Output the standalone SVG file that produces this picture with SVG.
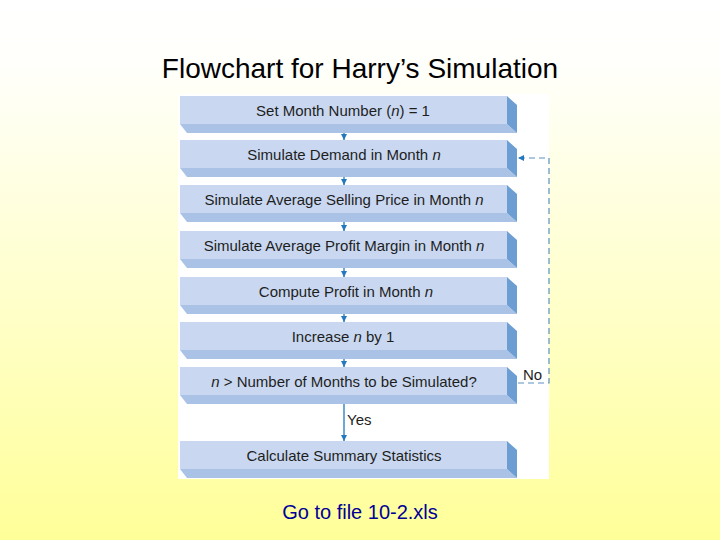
<svg xmlns="http://www.w3.org/2000/svg" width="720" height="540" viewBox="0 0 720 540">
<defs>
<linearGradient id="bg" x1="0" y1="0" x2="0" y2="1">
<stop offset="0" stop-color="#ffffff"/>
<stop offset="0.12" stop-color="#fffffb"/>
<stop offset="1" stop-color="#ffff99"/>
</linearGradient>
<marker id="ah" viewBox="0 0 10 10" refX="10" refY="5" markerWidth="6" markerHeight="7" markerUnits="userSpaceOnUse" orient="auto">
<path d="M0,0 L10,5 L0,10 z" fill="#2378be"/>
</marker>
<marker id="ahd" viewBox="0 0 10 10" refX="10" refY="5" markerWidth="7" markerHeight="6" markerUnits="userSpaceOnUse" orient="auto">
<path d="M0,0 L10,5 L0,10 z" fill="#2378be"/>
</marker>
<g id="box">
<rect x="180" y="0" width="327" height="28" class="front"/>
<polygon points="180,28 507,28 517,37 187,37" class="bottom"/>
<polygon points="507,0 517,9 517,37 507,28" class="side"/>
</g>
</defs>
<style>
.front{fill:#c9d8f0}
.bottom{fill:#a9c2e6}
.side{fill:#6d9ed3}
.lbl{font-family:"Liberation Sans",Arial,sans-serif;font-size:15px;fill:#1e1e1e;text-anchor:middle}
.conn{stroke:#2378be;stroke-width:1.3;fill:none}
.dash{stroke:#5a8fbf;stroke-width:1.2;fill:none;stroke-dasharray:6,4}
</style>
<rect x="0" y="0" width="720" height="540" fill="url(#bg)"/>
<text x="360" y="78" font-family="Liberation Sans, Arial, sans-serif" font-size="28" text-anchor="middle" fill="#000">Flowchart for Harry’s Simulation</text>
<rect x="178" y="94" width="371" height="385" fill="#ffffff"/>

<g id="connectors">
<line class="conn" x1="344" y1="124" x2="344" y2="140" marker-end="url(#ah)"/>
<line class="conn" x1="344" y1="168" x2="344" y2="185" marker-end="url(#ah)"/>
<line class="conn" x1="344" y1="213" x2="344" y2="231" marker-end="url(#ah)"/>
<line class="conn" x1="344" y1="259" x2="344" y2="277" marker-end="url(#ah)"/>
<line class="conn" x1="344" y1="305" x2="344" y2="322" marker-end="url(#ah)"/>
<line class="conn" x1="344" y1="350" x2="344" y2="367" marker-end="url(#ah)"/>
<line class="conn" x1="344" y1="395" x2="344" y2="441" marker-end="url(#ah)"/>
<polyline class="dash" points="518,383 549,383 549,158 518,158" marker-end="url(#ahd)"/>
<text x="347" y="425" font-family="Liberation Sans, Arial, sans-serif" font-size="15" fill="#1e1e1e">Yes</text>
<text x="523" y="380" font-family="Liberation Sans, Arial, sans-serif" font-size="15" fill="#1e1e1e">No</text>
</g>

<g id="n1"><use href="#box" y="96"/><text class="lbl" x="343" y="116">Set Month Number (<tspan font-style="italic">n</tspan>) = 1</text></g>
<g id="n2"><use href="#box" y="140"/><text class="lbl" x="344" y="160">Simulate Demand in Month <tspan font-style="italic">n</tspan></text></g>
<g id="n3"><use href="#box" y="185"/><text class="lbl" x="344" y="205">Simulate Average Selling Price in Month <tspan font-style="italic">n</tspan></text></g>
<g id="n4"><use href="#box" y="231"/><text class="lbl" x="344" y="251">Simulate Average Profit Margin in Month <tspan font-style="italic">n</tspan></text></g>
<g id="n5"><use href="#box" y="277"/><text class="lbl" x="346" y="297">Compute Profit in Month <tspan font-style="italic">n</tspan></text></g>
<g id="n6"><use href="#box" y="322"/><text class="lbl" x="343" y="342">Increase <tspan font-style="italic">n</tspan> by 1</text></g>
<g id="n7"><use href="#box" y="367"/><text class="lbl" x="344" y="387"><tspan font-style="italic">n</tspan> &gt; Number of Months to be Simulated?</text></g>
<g id="n8"><use href="#box" y="441"/><text class="lbl" x="344" y="461">Calculate Summary Statistics</text></g>

<text x="360" y="519" font-family="Liberation Sans, Arial, sans-serif" font-size="20" text-anchor="middle" fill="#000099">Go to file 10-2.xls</text>
</svg>
